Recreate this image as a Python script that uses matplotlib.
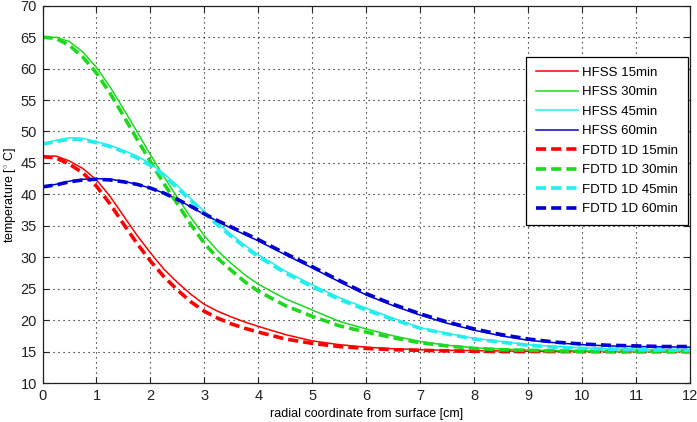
import matplotlib
matplotlib.use("Agg")
from matplotlib import pyplot as plt

plt.rcParams['font.family'] = ['Liberation Sans', 'DejaVu Sans']
plt.rcParams['mathtext.fontset'] = 'custom'
plt.rcParams['mathtext.rm'] = 'Liberation Sans'

# radial coordinate [cm]
radius = [0, 0.25, 0.5, 0.75, 1, 1.25, 1.5, 1.75, 2, 2.25, 2.5, 2.75, 3, 3.25, 3.5, 3.75, 4,
          4.5, 5, 5.5, 6, 6.5, 7, 7.5, 8, 8.5, 9, 9.5, 10, 10.5, 11, 11.5, 12]

hfss_15 = [46.0, 46.1, 45.3, 44.1, 42.3, 39.7, 36.6, 33.5, 30.7, 28.1, 26.0, 24.1, 22.5, 21.4, 20.5, 19.7, 19.0,
           17.7, 16.7, 16.1, 15.7, 15.45, 15.3, 15.2, 15.15, 15.1, 15.05, 15.0, 15.0, 15.0, 15.0, 15.0, 15.0]
hfss_30 = [64.8, 65.0, 64.3, 62.6, 60.2, 57.1, 53.6, 50.0, 46.3, 42.8, 39.5, 36.3, 33.4, 31.0, 29.0, 27.2, 25.7,
           23.4, 21.6, 19.8, 18.6, 17.5, 16.6, 16.0, 15.6, 15.4, 15.25, 15.15, 15.1, 15.05, 15.0, 15.0, 15.0]
hfss_45 = [48.0, 48.6, 49.0, 48.9, 48.4, 47.8, 47.0, 46.1, 44.9, 43.3, 41.4, 39.3, 37.3, 35.4, 33.6, 31.9, 30.4,
           27.8, 25.6, 23.6, 21.9, 20.3, 18.8, 17.9, 17.1, 16.6, 16.1, 15.8, 15.6, 15.45, 15.35, 15.3, 15.25]
hfss_60 = [41.2, 41.6, 42.1, 42.4, 42.5, 42.4, 42.1, 41.6, 41.0, 40.2, 39.2, 38.0, 36.8, 35.7, 34.6, 33.6, 32.6,
           30.4, 28.3, 26.1, 24.0, 22.3, 20.8, 19.5, 18.4, 17.5, 16.8, 16.4, 16.1, 15.9, 15.8, 15.75, 15.7]

fdtd_15 = [46.0, 45.8, 44.8, 43.4, 41.3, 38.5, 35.3, 32.2, 29.4, 26.9, 24.8, 22.9, 21.4, 20.3, 19.4, 18.7, 18.1,
           17.0, 16.3, 15.8, 15.5, 15.3, 15.2, 15.1, 15.05, 15.0, 15.0, 15.0, 15.0, 15.0, 15.0, 15.0, 15.0]
fdtd_30 = [65.0, 64.8, 63.7, 61.8, 59.3, 56.1, 52.5, 48.8, 45.2, 41.7, 38.5, 35.2, 32.2, 29.8, 27.9, 26.1, 24.6,
           22.3, 20.6, 19.1, 18.1, 17.2, 16.4, 15.9, 15.5, 15.3, 15.2, 15.1, 15.05, 15.0, 15.0, 15.0, 15.0]
fdtd_45 = [48.0, 48.4, 48.8, 48.7, 48.2, 47.6, 46.8, 45.8, 44.6, 43.0, 41.0, 39.0, 37.0, 35.1, 33.3, 31.6, 30.1,
           27.5, 25.3, 23.3, 21.6, 20.1, 18.7, 17.8, 17.0, 16.5, 16.0, 15.7, 15.5, 15.4, 15.3, 15.25, 15.2]
fdtd_60 = [41.2, 41.5, 42.0, 42.3, 42.4, 42.3, 42.0, 41.6, 41.0, 40.2, 39.2, 38.1, 36.9, 35.8, 34.8, 33.8, 32.8,
           30.6, 28.5, 26.3, 24.2, 22.5, 21.0, 19.7, 18.6, 17.7, 17.0, 16.5, 16.2, 16.0, 15.9, 15.8, 15.8]

labels = ['15min', '30min', '45min', '60min']
colors = ['#ff0000', '#1ed81e', '#22eeee', '#0000d4']

fig = plt.figure(figsize=(6.97, 4.22), dpi=100)
ax = fig.add_axes([0.061, 0.0924, 0.929, 0.894])

for ys, lab, c in zip([hfss_15, hfss_30, hfss_45, hfss_60], labels, colors):
    ax.plot(radius, ys, color=c, lw=1.1, label='HFSS ' + lab)
for ys, lab, c in zip([fdtd_15, fdtd_30, fdtd_45, fdtd_60], labels, colors):
    ax.plot(radius, ys, color=c, lw=2.6, dashes=(2.8, 1.4), label='FDTD 1D ' + lab)

ax.set_xlim(0, 12)
ax.set_ylim(10, 70)
ax.set_xticks(range(0, 13))
ax.set_yticks(range(10, 71, 5))
ax.grid(True, color='black', linestyle=(0, (1, 3.5)), lw=0.8)
ax.tick_params(direction='in', top=True, right=True, labelsize=10.5, length=4, width=0.8,
               colors='#222222', pad=4)
for s in ax.spines.values():
    s.set_linewidth(0.9)
    s.set_color('#222222')

ax.set_xlabel('radial coordinate from surface [cm]', fontsize=9, labelpad=4)
ax.set_ylabel('temperature [$^{\\circ}$ C]', fontsize=9, labelpad=2)

leg = ax.legend(loc='upper right', bbox_to_anchor=(0.997, 0.865), borderaxespad=0,
                fontsize=9.5, fancybox=False, framealpha=1, edgecolor='black',
                handlelength=3.2, borderpad=0.75, labelspacing=0.55, handletextpad=0.3)
leg.get_frame().set_linewidth(0.9)

fig.savefig('out.png', dpi=100)
